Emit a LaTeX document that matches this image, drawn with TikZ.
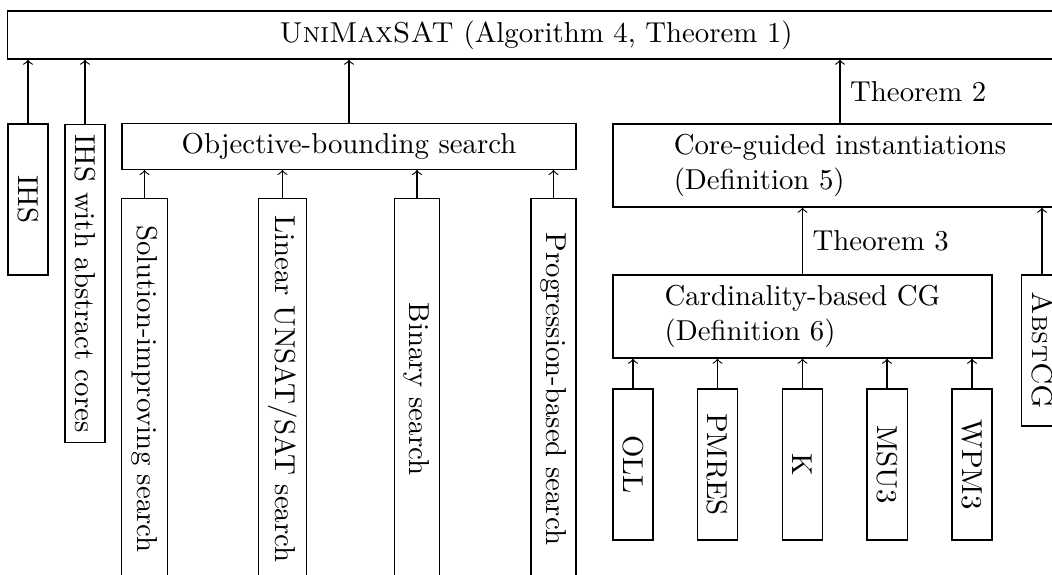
\documentclass[tikz,border=0pt]{standalone}
\usepackage{graphicx}
\begin{document}
\begin{tikzpicture}[x=0.3472pt, y=-0.3472pt]
\tikzset{
  box/.style={draw, inner sep=3.333pt},
  vsmall/.style={box, minimum width=13.9pt, minimum height=52.4pt},
  vtall/.style={box, minimum height=132pt},
  link/.style={->},
}
\useasboundingbox (0,0) rectangle (1052,575);
\clip (0,0) rectangle (1052,575);

\node[box, minimum width=366.7pt, minimum height=16.67pt] (top) at (536,35) {\textsc{UniMaxSAT} (Algorithm 4, Theorem 1)};

\node[vsmall] (ihs) at (28,199.5) {\rotatebox{-90}{IHS}};
\node[box] (ihsa) at (85,283.5) {\rotatebox{-90}{IHS with abstract cores}};

\node[box, minimum width=157.6pt, minimum height=15.6pt] (obj) at (349,146.5) {Objective-bounding search};
\node[vtall] (sol) at (144.5,389) {\rotatebox{-90}{Solution-improving search}};
\node[vtall] (lin) at (282.5,389) {\rotatebox{-90}{Linear UNSAT/SAT search}};
\node[vtall] (bin) at (417,389) {\rotatebox{-90}{Binary search}};
\node[vtall] (prog) at (553.5,389) {\rotatebox{-90}{Progression-based search}};

\node[box, align=left, minimum width=157.6pt, minimum height=28.8pt] (cg) at (840,165.5) {Core-guided instantiations\\(Definition 5)};
\node[box, align=left, minimum width=131.6pt, minimum height=28.8pt] (card) at (802.5,316.5) {Cardinality-based CG\\(Definition 6)};

\node[vsmall] (oll) at (633,464.5) {\rotatebox{-90}{OLL}};
\node[vsmall] (pmres) at (717.5,464.5) {\rotatebox{-90}{PMRES}};
\node[vsmall] (k) at (802.5,464.5) {\rotatebox{-90}{K}};
\node[vsmall] (msu) at (887,464.5) {\rotatebox{-90}{MSU3}};
\node[vsmall] (wpm) at (972,464.5) {\rotatebox{-90}{WPM3}};
\node[vsmall] (abst) at (1042,350.5) {\rotatebox{-90}{\textsc{AbstCG}}};

\draw[link] (ihs.north) -- (ihs.north |- top.south);
\draw[link] (ihsa.north) -- (ihsa.north |- top.south);
\draw[link] (obj.north) -- (obj.north |- top.south);
\draw[link] (cg.north) -- node[right] {Theorem 2} (cg.north |- top.south);

\draw[link] (sol.north) -- (sol.north |- obj.south);
\draw[link] (lin.north) -- (lin.north |- obj.south);
\draw[link] (bin.north) -- (bin.north |- obj.south);
\draw[link] (prog.north) -- (prog.north |- obj.south);

\draw[link] (card.north) -- node[right] {Theorem 3} (card.north |- cg.south);
\draw[link] (abst.north) -- (abst.north |- cg.south);

\draw[link] (oll.north) -- (oll.north |- card.south);
\draw[link] (pmres.north) -- (pmres.north |- card.south);
\draw[link] (k.north) -- (k.north |- card.south);
\draw[link] (msu.north) -- (msu.north |- card.south);
\draw[link] (wpm.north) -- (wpm.north |- card.south);
\end{tikzpicture}
\end{document}
